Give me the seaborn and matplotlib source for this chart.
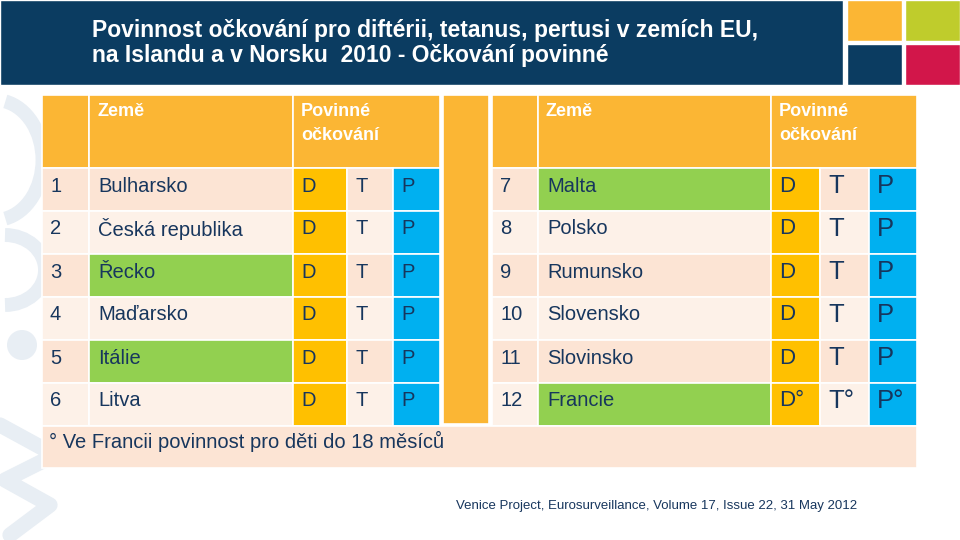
import matplotlib
matplotlib.use("Agg")
import matplotlib.pyplot as plt
from matplotlib.patches import Rectangle, Arc, Circle
import seaborn as sns

# table content
numbers = [1, 2, 3, 4, 5, 6, 7, 8, 9, 10, 11, 12]
countries = ["Bulharsko", "Česká republika", "Řecko", "Maďarsko", "Itálie", "Litva",
             "Malta", "Polsko", "Rumunsko", "Slovensko", "Slovinsko", "Francie"]
highlighted = ["Řecko", "Itálie", "Malta", "Francie"]
footnoted = ["Francie"]
vaccines = ["D", "T", "P"]
header_country = "Země"
header_vacc = ["Povinné", "očkování"]
title = ("Povinnost očkování pro diftérii, tetanus, pertusi v zemích EU,\n"
         "na Islandu a v Norsku  2010 - Očkování povinné")
footnote = "° Ve Francii povinnost pro děti do 18 měsíců"
source = "Venice Project, Eurosurveillance, Volume 17, Issue 22, 31 May 2012"

# colours
NAVY = "#0b3c61"
ORANGE = "#fbb634"
GOLD = "#ffc000"
CYAN = "#00b0f0"
GREEN = "#92d050"
PEACH = "#fce4d4"
LIGHT = "#fdf1e8"
TEXT = "#17365d"
vacc_colors = {"D": GOLD, "T": None, "P": CYAN}

# layout (pixel coordinates on a 960x540 canvas)
left_cols = [42, 89, 293, 347, 393, 440]
right_cols = [492, 538, 771, 820, 869, 917]
sep_cols = [443, 489]
head_top, head_bot, row_h = 95, 168, 43
rows_per_table = 6

sns.set_theme(style="white")
plt.rcParams["font.family"] = ["Liberation Sans", "DejaVu Sans"]

fig = plt.figure(figsize=(9.6, 5.4), dpi=100)
ax = fig.add_axes([0, 0, 1, 1])
ax.set_xlim(0, 960)
ax.set_ylim(540, 0)
ax.axis("off")


def cell(x0, x1, y0, y1, color):
    ax.add_patch(Rectangle((x0, y0), x1 - x0, y1 - y0, facecolor=color,
                           edgecolor="white", linewidth=1.2, zorder=2))


# faint decoration on the left
deco = "#e8eef4"
ax.add_patch(Arc((-5, 160), 95, 120, theta1=-80, theta2=80, color=deco, lw=10, zorder=0))
ax.add_patch(Arc((5, 270), 80, 70, theta1=-90, theta2=90, color=deco, lw=10, zorder=0))
ax.add_patch(Circle((22, 345), 15, facecolor=deco, edgecolor="none", zorder=0))
ax.plot([0, 55, 5, 50, 10], [425, 455, 480, 505, 535], color=deco, lw=11,
        solid_capstyle="round", zorder=0)

# title band
ax.add_patch(Rectangle((0, 0), 843, 85, facecolor=NAVY, zorder=1))
ax.add_patch(Rectangle((847, 0), 55, 41, facecolor=ORANGE, zorder=1))
ax.add_patch(Rectangle((905, 0), 55, 41, facecolor="#bfcc2c", zorder=1))
ax.add_patch(Rectangle((847, 44), 55, 41, facecolor=NAVY, zorder=1))
ax.add_patch(Rectangle((905, 44), 55, 41, facecolor="#d2164a", zorder=1))
ax.text(92, 43, title, color="white", fontsize=16.5, fontweight="bold",
        va="center", ha="left", linespacing=1.08, zorder=3)

# separator column between the two tables
cell(sep_cols[0], sep_cols[1], head_top, head_bot + rows_per_table * row_h - 2, ORANGE)

for t, cols in enumerate([left_cols, right_cols]):
    # header
    cell(cols[0], cols[1], head_top, head_bot, ORANGE)
    cell(cols[1], cols[2], head_top, head_bot, ORANGE)
    cell(cols[2], cols[5], head_top, head_bot, ORANGE)
    ax.text(cols[1] + 8, head_top + 16, header_country, color="white", fontsize=13,
            fontweight="bold", va="center", zorder=3)
    for n, line in enumerate(header_vacc):
        ax.text(cols[2] + 8, head_top + 16 + n * 24, line, color="white", fontsize=13,
                fontweight="bold", va="center", zorder=3)

    big = t == 1
    for i in range(rows_per_table):
        k = t * rows_per_table + i
        y0 = head_bot + i * row_h
        y1 = y0 + row_h
        base = PEACH if i % 2 == 0 else LIGHT
        name = countries[k]
        cell(cols[0], cols[1], y0, y1, base)
        cell(cols[1], cols[2], y0, y1, GREEN if name in highlighted else base)
        ax.text(cols[0] + 8, y0 + 18, str(numbers[k]), color=TEXT, fontsize=14.5,
                va="center", zorder=3)
        ax.text(cols[1] + 9, y0 + 18, name, color=TEXT, fontsize=14.5,
                va="center", zorder=3)
        mark = "°" if name in footnoted else ""
        for j, v in enumerate(vaccines):
            cell(cols[2 + j], cols[3 + j], y0, y1, vacc_colors[v] or base)
            size = (16 if v == "D" else 18.5) if big else 14.5
            ax.text(cols[2 + j] + 8, y0 + 18, v + mark, color=TEXT, fontsize=size,
                    va="center", zorder=3)

# footnote row
foot_top = head_bot + rows_per_table * row_h
cell(left_cols[0], right_cols[-1], foot_top, foot_top + 42, PEACH)
ax.text(left_cols[0] + 7, foot_top + 15, footnote, color=TEXT, fontsize=14.5,
        va="center", zorder=3)

ax.text(456, 506, source, color=TEXT, fontsize=9.5, va="center", zorder=3)

fig.savefig("out.png", dpi=100)
